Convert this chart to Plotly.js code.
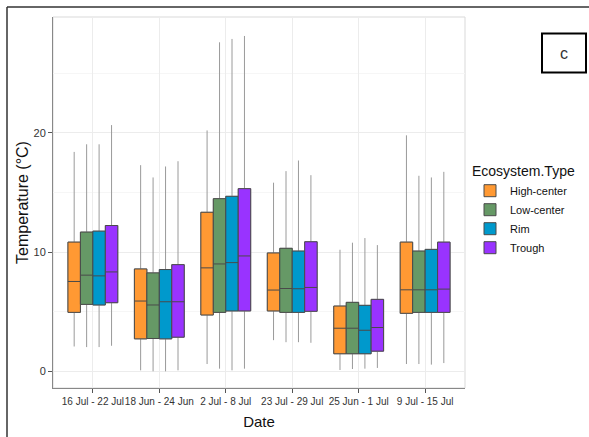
<!DOCTYPE html>
<html>
<head>
<meta charset="utf-8">
<script src="https://cdn.plot.ly/plotly-3.0.1.min.js"></script>
<style>html,body{margin:0;padding:0;background:#fff;}</style>
</head>
<body>
<div id="chart" style="width:589px;height:437px;"></div>
<script>
const categories = ["16 Jul - 22 Jul", "18 Jun - 24 Jun", "2 Jul - 8 Jul", "23 Jul - 29 Jul", "25 Jun - 1 Jul", "9 Jul - 15 Jul"];
const seriesNames = ["High-center", "Low-center", "Rim", "Trough"];
const seriesColors = ["#FF9933", "#669966", "#0099CC", "#9933FF"];

const highLower  = [2.08, 0.08, 0.61, 2.61, 0.11, 0.61];
const highQ1     = [4.94, 2.72, 4.72, 5.06, 1.47, 4.86];
const highMedian = [7.53, 5.89, 8.67, 6.81, 3.61, 6.83];
const highQ3     = [10.83, 8.58, 13.33, 9.92, 5.47, 10.83];
const highUpper  = [18.39, 17.28, 20.19, 15.81, 10.19, 19.78];

const lowLower  = [2.03, 0.00, 0.22, 2.44, 0.19, 0.61];
const lowQ1     = [5.61, 2.75, 4.94, 4.94, 1.47, 4.94];
const lowMedian = [8.06, 5.56, 9.00, 6.94, 3.61, 6.83];
const lowQ3     = [11.67, 8.25, 14.47, 10.31, 5.78, 10.08];
const lowUpper  = [19.03, 16.25, 27.58, 16.78, 10.78, 16.39];

const rimLower  = [2.03, 0.00, 0.08, 2.44, 0.22, 0.56];
const rimQ1     = [5.56, 2.72, 5.06, 4.94, 1.47, 4.94];
const rimMedian = [8.00, 5.83, 9.11, 6.92, 3.44, 6.83];
const rimQ3     = [11.75, 8.53, 14.67, 10.08, 5.53, 10.22];
const rimUpper  = [19.03, 17.17, 27.86, 17.67, 11.17, 16.25];

const troughLower  = [2.14, 0.08, 0.22, 2.39, 0.28, 0.69];
const troughQ1     = [5.75, 2.86, 5.06, 5.03, 1.69, 4.94];
const troughMedian = [8.33, 5.83, 9.67, 7.03, 3.67, 6.89];
const troughQ3     = [12.22, 8.94, 15.31, 10.86, 6.03, 10.83];
const troughUpper  = [20.64, 17.61, 28.11, 16.44, 10.58, 16.72];

const yTicks = [0, 10, 20];

const stats = [
  [highLower, highQ1, highMedian, highQ3, highUpper],
  [lowLower, lowQ1, lowMedian, lowQ3, lowUpper],
  [rimLower, rimQ1, rimMedian, rimQ3, rimUpper],
  [troughLower, troughQ1, troughMedian, troughQ3, troughUpper]
];

const traces = [];
// whiskers (gray) layer
stats.forEach((s, i) => {
  traces.push({
    type: 'box', name: seriesNames[i], x: categories,
    lowerfence: s[0], q1: s[1], median: s[2], q3: s[3], upperfence: s[4],
    fillcolor: seriesColors[i], line: {color: '#9a9a9a', width: 1},
    whiskerwidth: 0, boxpoints: false, offsetgroup: 'g' + i,
    showlegend: false, hoverinfo: 'skip'
  });
});
// box layer with darker outline
stats.forEach((s, i) => {
  traces.push({
    type: 'box', name: seriesNames[i], x: categories,
    lowerfence: s[1], q1: s[1], median: s[2], q3: s[3], upperfence: s[3],
    fillcolor: seriesColors[i], line: {color: '#4a4a4a', width: 1},
    whiskerwidth: 0, boxpoints: false, offsetgroup: 'g' + i,
    showlegend: true
  });
});

const fontFam = 'Liberation Sans, Arial, sans-serif';
const pl = 53, pr = 465, pt = 17, pb = 388;
const W = pr - pl, H = pb - pt;
const px = v => (v - pl) / W;
const py = v => (pb - v) / H;

const layout = {
  width: 589, height: 437,
  margin: {l: pl, r: 589 - pr, t: pt, b: 437 - pb, pad: 0},
  paper_bgcolor: '#fff', plot_bgcolor: '#fff',
  font: {family: fontFam, color: '#222'},
  boxmode: 'group', boxgap: 0.25, boxgroupgap: 0,
  xaxis: {
    type: 'category', categoryorder: 'array', categoryarray: categories,
    range: [-0.6, 5.6], showgrid: true, gridcolor: '#ececec', gridwidth: 1,
    ticks: 'outside', ticklen: 4, tickcolor: '#555', tickwidth: 1, tickangle: 0,
    showline: true, linecolor: '#888', linewidth: 1, zeroline: false,
    tickfont: {size: 10, color: '#333', family: 'Liberation Sans Narrow, Liberation Sans, Arial, sans-serif'},
    title: {text: 'Date', font: {size: 15, color: '#111', family: fontFam}, standoff: 10}
  },
  yaxis: {
    range: [-1.4, 29.7], tickvals: yTicks, ticktext: yTicks.map(String),
    showgrid: true, gridcolor: '#ececec', gridwidth: 1, zeroline: false,
    minor: {dtick: 5, tick0: 0, showgrid: true, gridcolor: '#f6f6f6', ticks: ''},
    ticks: 'outside', ticklen: 4, tickcolor: '#555', tickwidth: 1,
    showline: true, linecolor: '#888', linewidth: 1,
    tickfont: {size: 11, color: '#333', family: fontFam},
    title: {text: 'Temperature (°C)', font: {size: 16, color: '#111', family: fontFam}, standoff: 0}
  },
  legend: {
    x: px(470), y: py(158), xanchor: 'left', yanchor: 'top',
    title: {text: 'Ecosystem.Type', font: {size: 14, color: '#111', family: fontFam}},
    font: {size: 11, color: '#111', family: fontFam},
    bgcolor: 'rgba(0,0,0,0)', itemwidth: 30, tracegroupgap: 0
  },
  shapes: [
    {type: 'rect', xref: 'paper', yref: 'paper', x0: 0, x1: 1, y0: 0, y1: 1,
     line: {color: '#d9d9d9', width: 1}, layer: 'below'},
    {type: 'line', xref: 'paper', yref: 'paper', x0: px(7), x1: px(592), y0: py(7), y1: py(7),
     line: {color: '#333', width: 1.5}},
    {type: 'line', xref: 'paper', yref: 'paper', x0: px(7), x1: px(7), y0: py(7), y1: py(440),
     line: {color: '#333', width: 1.5}},
    {type: 'rect', xref: 'paper', yref: 'paper', x0: px(542), x1: px(586), y0: py(72.5), y1: py(33.5),
     line: {color: '#000', width: 2}, fillcolor: '#fff'}
  ],
  annotations: [
    {xref: 'paper', yref: 'paper', x: px(564), y: py(53), text: 'c', showarrow: false,
     font: {size: 16, color: '#333', family: 'Liberation Sans, Arial, sans-serif'}, xanchor: 'center', yanchor: 'middle'}
  ]
};

Plotly.newPlot('chart', traces, layout, {displayModeBar: false, staticPlot: true});
</script>
</body>
</html>
